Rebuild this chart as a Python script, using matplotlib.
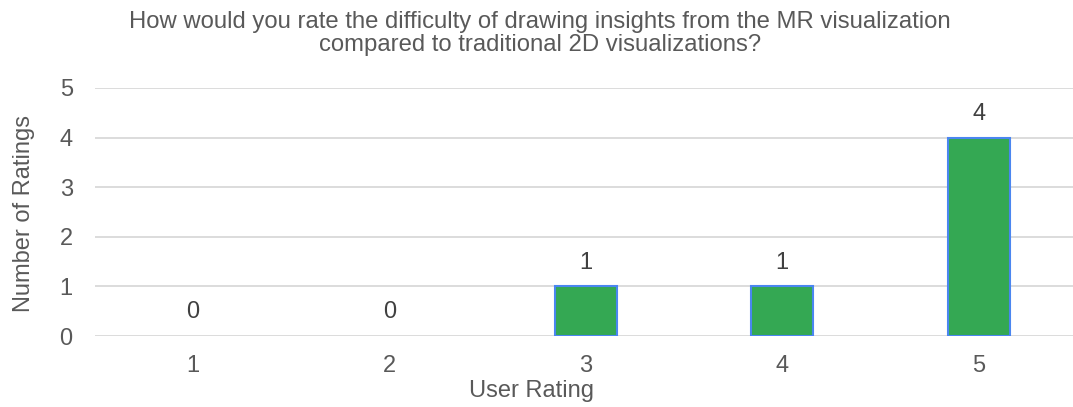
import matplotlib.pyplot as plt

plt.rcParams['font.family'] = ['Liberation Sans', 'DejaVu Sans']

ratings = [1, 2, 3, 4, 5]
counts = [0, 0, 1, 1, 4]
tick_labels = ['1', '2', '3', '4', '5']

fig = plt.figure(figsize=(10.73, 4.07), dpi=100)
ax = fig.add_axes([0.0885, 0.1744, 0.915, 0.6094])

edges = ['#4A86F0' if c > 0 else 'none' for c in counts]
ax.bar(ratings, counts, width=0.315, color='#34A853',
       edgecolor=edges, linewidth=1.5, zorder=3)

for x, c in zip(ratings, counts):
    ax.annotate(str(c), (x, c), xytext=(0, 17), textcoords='offset points',
                ha='center', va='center', fontsize=17, color='#404040')

ax.set_xlim(0.5, 5.5)
ax.set_ylim(0, 5)
ax.set_xticks(ratings)
ax.set_xticklabels(tick_labels)
ax.set_yticks(range(6))
ax.yaxis.grid(True, color='#D9D9D9', linewidth=1.3, zorder=0)
ax.tick_params(axis='both', length=0, labelsize=17, labelcolor='#595959')
ax.tick_params(axis='x', pad=14)
ax.tick_params(axis='y', pad=16)
for s in ax.spines.values():
    s.set_visible(False)

fig.text(0.495, 0.04, 'User Rating', ha='center', va='center',
         fontsize=17, color='#595959')
fig.text(0.022, 0.475, 'Number of Ratings', ha='center', va='center',
         rotation=90, fontsize=17, color='#595959')

fig.text(0.503, 0.918, 'How would you rate the difficulty of drawing insights from the MR visualization\ncompared to traditional 2D visualizations?',
         ha='center', va='center', fontsize=17.2, color='#595959', linespacing=1.1)

fig.savefig('out.png', dpi=100)
